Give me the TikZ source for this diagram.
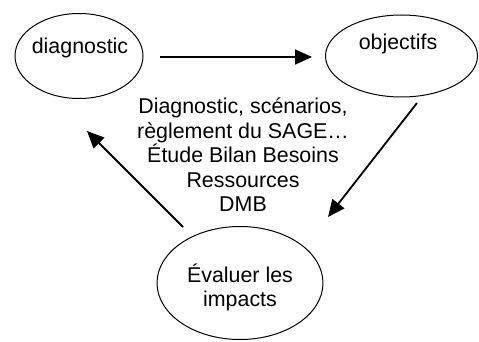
\documentclass[tikz,border=0pt]{standalone}
\usepackage{fontspec}
\setmainfont{Liberation Sans}
\usetikzlibrary{shapes.geometric,arrows.meta}

\begin{document}
\begin{tikzpicture}[x=1pt,y=-1pt,
    bubble/.style={shape=ellipse, draw, line width=1pt, inner sep=0pt},
    word/.style={font=\fontsize{21.4}{24.5}\selectfont, inner sep=0pt, anchor=base},
    flow/.style={line width=1.8pt, -{Triangle[length=17pt,width=15pt]}}]
    \useasboundingbox (0,0) rectangle (479,342);

    % the three steps
    \node[bubble, minimum width=128pt, minimum height=85pt] (diag) at (79,56) {};
    \node[bubble, minimum width=152pt, minimum height=82pt] (obj) at (401.5,56) {};
    \node[bubble, minimum width=166pt, minimum height=113pt] (eval) at (240,283) {};

    \node[word] (diagtxt) at (80,54) {diagnostic};
    \node[word] (objtxt) at (398,50) {objectifs};
    \node[word] (evaltxt) at (240,282) {Évaluer les};
    \node[word] (evaltxtb) at (240,306) {impacts};

    % text in the middle
    \node[word, anchor=center, align=center] (tools) at (243,155)
        {Diagnostic, scénarios,\\règlement du SAGE…\\Étude Bilan Besoins\\Ressources\\DMB};

    % arrow ends
    \coordinate (a1s) at (160,57);
    \coordinate (a1e) at (312,57);
    \coordinate (a2s) at (417,103);
    \coordinate (a2e) at (328,217);
    \coordinate (a3s) at (183,227);
    \coordinate (a3e) at (87,131);

    \draw[flow] (a1s) -- (a1e);
    \draw[flow] (a2s) -- (a2e);
    \draw[flow] (a3s) -- (a3e);
\end{tikzpicture}
\end{document}
